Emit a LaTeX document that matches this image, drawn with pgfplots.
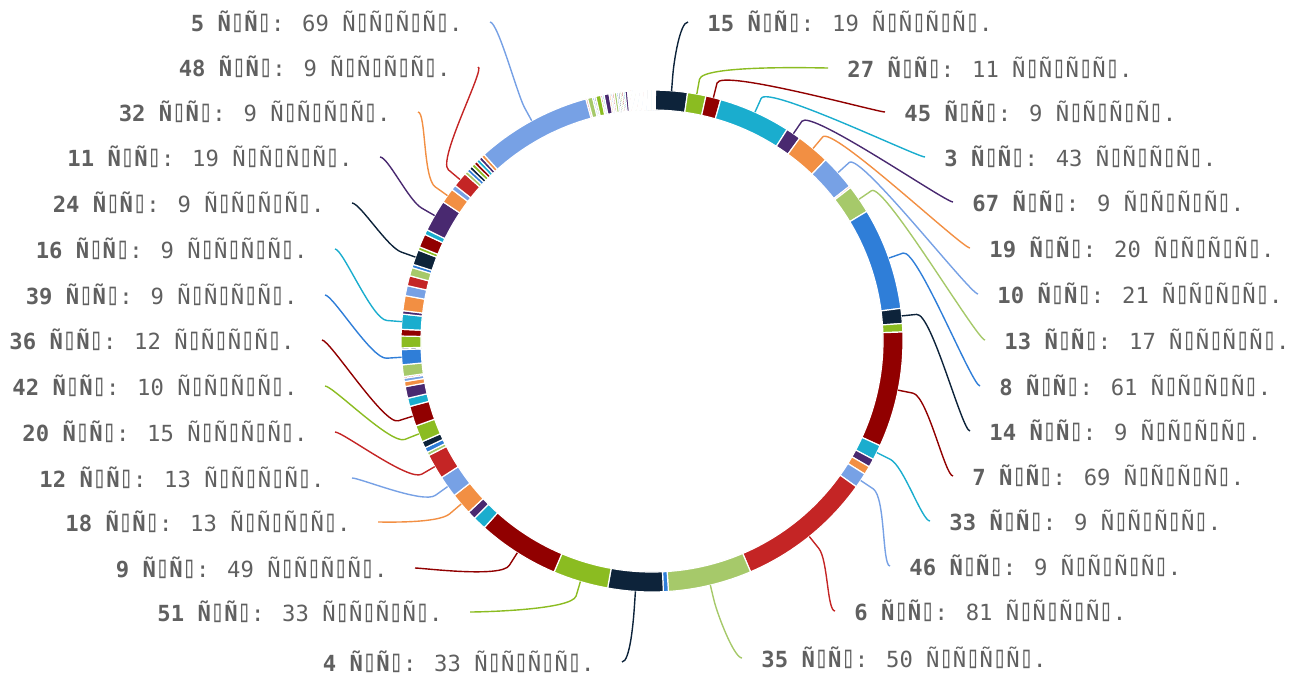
\documentclass[border=0pt]{standalone}
\usepackage{pgfplots}
\pgfplotsset{compat=1.18}
\usepackage{pgfplotstable}
\usepackage{graphicx}
\usepackage{fontspec}
\setmainfont{DejaVu Sans Mono}

\definecolor{c0}{HTML}{2F7ED8}
\definecolor{c1}{HTML}{0D233A}
\definecolor{c2}{HTML}{8BBC21}
\definecolor{c3}{HTML}{910000}
\definecolor{c4}{HTML}{1AADCE}
\definecolor{c5}{HTML}{492970}
\definecolor{c6}{HTML}{F28F43}
\definecolor{c7}{HTML}{77A1E5}
\definecolor{c8}{HTML}{C42525}
\definecolor{c9}{HTML}{A6C96A}
\definecolor{labgray}{HTML}{606060}

% slices, clockwise from the top: value, colour index
\pgfplotstableread[row sep=\\]{
v c\\
0.5 0\\ 19 1\\ 11 2\\ 9 3\\ 43 4\\ 9 5\\ 20 6\\ 21 7\\ 1 8\\ 17 9\\
61 0\\ 9 1\\ 5 2\\ 69 3\\ 9 4\\ 5 5\\ 5 6\\ 9 7\\ 81 8\\ 50 9\\
3 0\\ 33 1\\ 33 2\\ 49 3\\ 8 4\\ 5 5\\ 13 6\\ 13 7\\ 15 8\\ 2 9\\
3 0\\ 4 1\\ 10 2\\ 12 3\\ 5 4\\ 7 5\\ 3 6\\ 2 7\\ 1 8\\ 7 9\\
9 0\\ 1 1\\ 7 2\\ 4 3\\ 9 4\\ 2 5\\ 9 6\\ 6 7\\ 6 8\\ 5 9\\
2 0\\ 9 1\\ 2 2\\ 8 3\\ 3 4\\ 19 5\\ 9 6\\ 3 7\\ 9 8\\ 2 9\\
2 0\\ 2 1\\ 2 2\\ 2 3\\ 2 4\\ 2 5\\ 2 6\\ 69 7\\ 1 8\\ 3 9\\
1 0\\ 1 1\\ 3 2\\ 1 3\\ 1 4\\ 3 5\\ 1 6\\ 1 7\\ 1 8\\ 1.5 9\\
1 0\\ 1 1\\ 1 2\\ 1 3\\ 1 4\\ 1.5 5\\ 0.8 6\\ 0.8 7\\ 0.8 8\\ 0.8 9\\
0.8 0\\ 0.8 1\\ 0.8 2\\ 0.8 3\\ 0.8 4\\ 0.8 5\\ 0.8 6\\ 0.8 7\\ 0.8 8\\ 0.8 9\\
0.8 0\\ 0.8 1\\ 0.8 2\\ 0.8 3\\ 0.8 4\\ 0.8 5\\
}\slices

% geometry in pixels of the 1293x680 picture
\def\cx{652}\def\cy{341}\def\Ro{251}\def\Ri{231}\def\aoff{0.6}

\pgfplotstablegetrowsof{\slices}
\pgfmathtruncatemacro\nlast{\pgfplotsretval-1}

\gdef\total{0}
\foreach \i in {0,...,\nlast}{%
  \pgfplotstablegetelem{\i}{v}\of\slices
  \pgfmathparse{\total+\pgfplotsretval}\xdef\total{\pgfmathresult}}

\gdef\cum{0}\gdef\allslices{}
\foreach \i in {0,...,\nlast}{%
  \pgfplotstablegetelem{\i}{v}\of\slices\let\val\pgfplotsretval
  \pgfplotstablegetelem{\i}{c}\of\slices\let\col\pgfplotsretval
  \pgfmathsetmacro\ta{\aoff+\cum/\total*360}
  \pgfmathparse{\cum+\val}\xdef\cum{\pgfmathresult}
  \pgfmathsetmacro\tb{\aoff+\cum/\total*360}
  \pgfmathsetmacro\tm{(\ta+\tb)/2}
  \expandafter\xdef\csname mid\i\endcsname{\tm}
  \pgfmathtruncatemacro\ns{max(1,ceil((\tb-\ta)/1.5))}
  \gdef\pts{}
  \foreach \k in {0,...,\ns}{%
    \pgfmathsetmacro\t{\ta+(\tb-\ta)*\k/\ns}
    \pgfmathsetmacro\px{\cx+\Ro*sin(\t)}
    \pgfmathsetmacro\py{\cy-\Ro*cos(\t)}
    \xdef\pts{\pts(\px,\py)}}
  \foreach \k in {\ns,...,0}{%
    \pgfmathsetmacro\t{\ta+(\tb-\ta)*\k/\ns}
    \pgfmathsetmacro\px{\cx+\Ri*sin(\t)}
    \pgfmathsetmacro\py{\cy-\Ri*cos(\t)}
    \xdef\pts{\pts(\px,\py)}}
  \xdef\allslices{\unexpanded\expandafter{\allslices}%
    \noexpand\addplot[fill=c\col,draw=white,line width=0.6pt,line join=round]
    coordinates {\pts} -- cycle;}%
}

\newcommand\bx{\scalebox{1}[1.4]{▯}}
\newcommand\lab[2]{\textbf{#1 Ñ\bx Ñ\bx}: #2 Ñ\bx Ñ\bx Ñ\bx Ñ\bx.}

% labels: slice index / side / connector end x / y / name / value
\gdef\alllabels{}
\foreach \idx/\sd/\lx/\ly/\nm/\vl in {
  1/1/688/22/15/19, 2/1/828/68/27/11, 3/1/885/112/45/9, 4/1/925/157/3/43,
  5/1/953/202/67/9, 6/1/970/248/19/20, 7/1/978/294/10/21, 9/1/985/340/13/17,
  10/1/980/386/8/61, 11/1/970/431/14/9, 13/1/953/476/7/69, 14/1/930/521/33/9,
  17/1/890/566/46/9, 18/1/835/611/6/81, 19/1/742/658/35/50,
  21/-1/622/662/4/33, 22/-1/470/612/51/33, 23/-1/415/568/9/49,
  26/-1/378/522/18/13, 27/-1/352/478/12/13, 28/-1/335/432/20/15,
  32/-1/325/386/42/10, 33/-1/322/340/36/12, 40/-1/325/295/39/9,
  44/-1/335/249/16/9, 51/-1/352/203/24/9, 55/-1/380/157/11/19,
  56/-1/418/112/32/9, 58/-1/478/67/48/9, 67/-1/490/22/5/69}{%
  \pgfmathsetmacro\tm{\csname mid\idx\endcsname}
  \pgfplotstablegetelem{\idx}{c}\of\slices\let\col\pgfplotsretval
  \pgfmathsetmacro\ax{\cx+\Ro*sin(\tm)}\pgfmathsetmacro\ay{\cy-\Ro*cos(\tm)}
  \pgfmathsetmacro\bx{\cx+(\Ro+15)*sin(\tm)}\pgfmathsetmacro\by{\cy-(\Ro+15)*cos(\tm)}
  \pgfmathsetmacro\kx{\cx+(\Ro+30)*sin(\tm)}\pgfmathsetmacro\ky{\cy-(\Ro+30)*cos(\tm)}
  \pgfmathsetmacro\dx{\lx-(\sd)*8}
  \pgfmathsetmacro\tx{\lx+23*(\sd)-4}
  \pgfmathsetmacro\ty{\ly+9}
  \ifnum\sd>0 \def\anc{base west}\else\def\anc{base east}\fi
  \xdef\alllabels{\unexpanded\expandafter{\alllabels}%
    \noexpand\draw[c\col,line width=0.7pt] (\lx,\ly) .. controls (\dx,\ly)
      and (\kx,\ky) .. (\bx,\by) -- (\ax,\ay);%
    \noexpand\node[lbl,anchor=\anc] at (\tx,\ty) {\noexpand\lab{\nm}{\vl}};}%
}

\begin{document}
\begin{tikzpicture}[lbl/.style={font=\fontsize{11.1}{13}\selectfont,
    text=labgray, inner sep=0pt}]
\useasboundingbox (0,0) rectangle (646.5pt,340pt);
\begin{axis}[
    at={(0,0)}, anchor=south west,
    width=646.5pt, height=340pt, scale only axis,
    xmin=0, xmax=1293, ymin=0, ymax=680, y dir=reverse,
    hide axis, clip=false,
    ]
\allslices
\alllabels
\end{axis}
\end{tikzpicture}
\end{document}
